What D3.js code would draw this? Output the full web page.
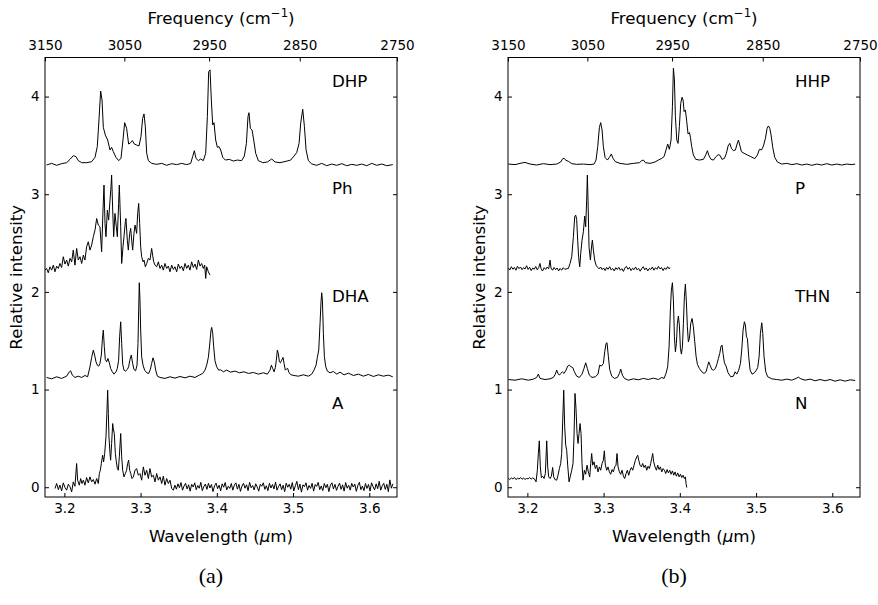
<!DOCTYPE html>
<html>
<head>
<meta charset="utf-8">
<script src="https://cdn.jsdelivr.net/npm/d3@7"></script>
<style>
  body { margin: 0; background: #fff; }
  svg { display: block; }
  text { fill: #000; }
</style>
</head>
<body>
<svg id="chart" width="878" height="605"></svg>
<script>
// spectra: [wavelength (um), relative intensity]
const dhp = [[3.1767,3.299],[3.1833,3.316],[3.1899,3.296],[3.1964,3.313],[3.2030,3.323],[3.2074,3.357],[3.2117,3.395],[3.2152,3.385],[3.2183,3.344],[3.2227,3.323],[3.2292,3.323],[3.2358,3.333],[3.2402,3.378],[3.2432,3.487],[3.2454,3.760],[3.2476,4.057],[3.2494,3.965],[3.2511,3.685],[3.2537,3.607],[3.2568,3.555],[3.2599,3.453],[3.2620,3.480],[3.2642,3.436],[3.2677,3.378],[3.2712,3.344],[3.2743,3.367],[3.2769,3.555],[3.2791,3.733],[3.2817,3.675],[3.2843,3.514],[3.2870,3.528],[3.2892,3.549],[3.2918,3.514],[3.2948,3.504],[3.2979,3.494],[3.3005,3.590],[3.3027,3.777],[3.3045,3.822],[3.3062,3.692],[3.3080,3.419],[3.3102,3.344],[3.3145,3.316],[3.3211,3.306],[3.3277,3.316],[3.3342,3.296],[3.3408,3.313],[3.3473,3.303],[3.3539,3.316],[3.3605,3.303],[3.3657,3.316],[3.3683,3.385],[3.3705,3.446],[3.3727,3.367],[3.3758,3.344],[3.3788,3.361],[3.3823,3.344],[3.3854,3.419],[3.3876,3.795],[3.3893,4.256],[3.3911,4.273],[3.3928,3.965],[3.3946,3.709],[3.3963,3.733],[3.3985,3.555],[3.4007,3.480],[3.4029,3.487],[3.4051,3.453],[3.4077,3.378],[3.4112,3.350],[3.4164,3.357],[3.4217,3.340],[3.4269,3.350],[3.4326,3.344],[3.4361,3.391],[3.4388,3.521],[3.4409,3.795],[3.4422,3.835],[3.4440,3.675],[3.4462,3.658],[3.4484,3.555],[3.4510,3.419],[3.4545,3.344],[3.4602,3.323],[3.4663,3.330],[3.4720,3.361],[3.4764,3.330],[3.4829,3.323],[3.4908,3.337],[3.4969,3.350],[3.5013,3.391],[3.5048,3.426],[3.5079,3.521],[3.5100,3.726],[3.5127,3.870],[3.5149,3.692],[3.5171,3.453],[3.5201,3.344],[3.5245,3.310],[3.5310,3.296],[3.5376,3.316],[3.5442,3.292],[3.5507,3.309],[3.5573,3.296],[3.5639,3.313],[3.5704,3.292],[3.5770,3.306],[3.5836,3.296],[3.5901,3.309],[3.5967,3.292],[3.6032,3.316],[3.6098,3.296],[3.6163,3.309],[3.6229,3.292],[3.6308,3.303]];

const ph = [[3.1746,2.223],[3.1767,2.240],[3.1789,2.196],[3.1811,2.257],[3.1833,2.223],[3.1855,2.274],[3.1877,2.206],[3.1899,2.264],[3.1921,2.240],[3.1942,2.291],[3.1964,2.250],[3.1986,2.360],[3.2008,2.285],[3.2030,2.326],[3.2052,2.264],[3.2074,2.343],[3.2096,2.308],[3.2117,2.428],[3.2139,2.274],[3.2161,2.445],[3.2183,2.326],[3.2205,2.360],[3.2227,2.291],[3.2249,2.377],[3.2270,2.326],[3.2292,2.462],[3.2314,2.513],[3.2336,2.428],[3.2358,2.479],[3.2380,2.565],[3.2402,2.633],[3.2424,2.752],[3.2445,2.684],[3.2467,2.667],[3.2489,2.411],[3.2507,2.838],[3.2520,3.094],[3.2533,2.701],[3.2546,2.565],[3.2564,2.838],[3.2581,2.735],[3.2599,2.940],[3.2612,3.077],[3.2620,3.196],[3.2634,2.838],[3.2647,2.565],[3.2664,2.804],[3.2682,2.667],[3.2695,2.565],[3.2712,2.906],[3.2721,3.094],[3.2739,2.667],[3.2752,2.291],[3.2769,2.462],[3.2782,2.565],[3.2800,2.718],[3.2808,2.752],[3.2826,2.530],[3.2839,2.428],[3.2857,2.599],[3.2870,2.650],[3.2883,2.530],[3.2896,2.428],[3.2913,2.599],[3.2927,2.684],[3.2940,2.633],[3.2948,2.599],[3.2962,2.804],[3.2975,2.906],[3.2988,2.701],[3.3001,2.462],[3.3014,2.360],[3.3032,2.308],[3.3045,2.326],[3.3062,2.257],[3.3080,2.291],[3.3102,2.343],[3.3123,2.326],[3.3145,2.445],[3.3158,2.377],[3.3172,2.308],[3.3189,2.274],[3.3211,2.257],[3.3233,2.308],[3.3255,2.240],[3.3277,2.274],[3.3298,2.223],[3.3320,2.291],[3.3342,2.240],[3.3364,2.264],[3.3386,2.206],[3.3408,2.274],[3.3430,2.230],[3.3451,2.257],[3.3473,2.206],[3.3495,2.285],[3.3517,2.240],[3.3539,2.264],[3.3561,2.216],[3.3583,2.291],[3.3605,2.240],[3.3626,2.274],[3.3648,2.223],[3.3670,2.308],[3.3692,2.250],[3.3714,2.285],[3.3736,2.230],[3.3758,2.326],[3.3780,2.264],[3.3801,2.291],[3.3823,2.240],[3.3841,2.274],[3.3854,2.138],[3.3867,2.257],[3.3889,2.206],[3.3911,2.172]];

const dha = [[3.1767,1.124],[3.1833,1.110],[3.1899,1.131],[3.1964,1.114],[3.2030,1.137],[3.2065,1.182],[3.2082,1.192],[3.2104,1.148],[3.2139,1.124],[3.2183,1.137],[3.2227,1.124],[3.2270,1.144],[3.2305,1.131],[3.2336,1.233],[3.2358,1.329],[3.2380,1.404],[3.2397,1.353],[3.2415,1.284],[3.2432,1.250],[3.2450,1.240],[3.2467,1.267],[3.2485,1.353],[3.2498,1.506],[3.2511,1.609],[3.2524,1.438],[3.2537,1.308],[3.2555,1.284],[3.2572,1.318],[3.2590,1.274],[3.2607,1.216],[3.2629,1.182],[3.2651,1.158],[3.2677,1.182],[3.2695,1.216],[3.2712,1.301],[3.2725,1.540],[3.2739,1.694],[3.2752,1.472],[3.2765,1.260],[3.2782,1.199],[3.2804,1.189],[3.2826,1.206],[3.2843,1.233],[3.2861,1.308],[3.2878,1.353],[3.2896,1.267],[3.2913,1.206],[3.2935,1.192],[3.2953,1.250],[3.2966,1.472],[3.2975,1.814],[3.2983,2.094],[3.2992,1.916],[3.3001,1.609],[3.3014,1.336],[3.3032,1.250],[3.3053,1.199],[3.3080,1.172],[3.3106,1.165],[3.3128,1.206],[3.3145,1.267],[3.3163,1.325],[3.3180,1.284],[3.3198,1.199],[3.3220,1.137],[3.3255,1.124],[3.3320,1.114],[3.3386,1.131],[3.3451,1.117],[3.3517,1.134],[3.3583,1.120],[3.3648,1.137],[3.3714,1.124],[3.3771,1.148],[3.3815,1.165],[3.3845,1.199],[3.3867,1.250],[3.3889,1.329],[3.3906,1.455],[3.3924,1.609],[3.3933,1.636],[3.3946,1.575],[3.3959,1.438],[3.3976,1.294],[3.3998,1.233],[3.4024,1.199],[3.4051,1.202],[3.4086,1.182],[3.4129,1.199],[3.4182,1.178],[3.4239,1.189],[3.4296,1.172],[3.4357,1.182],[3.4414,1.165],[3.4479,1.175],[3.4545,1.158],[3.4611,1.172],[3.4663,1.158],[3.4698,1.199],[3.4716,1.250],[3.4733,1.216],[3.4751,1.182],[3.4768,1.226],[3.4781,1.301],[3.4794,1.404],[3.4807,1.370],[3.4821,1.284],[3.4834,1.274],[3.4851,1.301],[3.4869,1.329],[3.4882,1.267],[3.4899,1.199],[3.4917,1.213],[3.4930,1.216],[3.4947,1.172],[3.4974,1.151],[3.5013,1.144],[3.5070,1.137],[3.5135,1.151],[3.5201,1.137],[3.5245,1.158],[3.5275,1.199],[3.5302,1.250],[3.5319,1.329],[3.5337,1.404],[3.5354,1.677],[3.5367,1.899],[3.5376,1.991],[3.5385,1.916],[3.5398,1.575],[3.5411,1.336],[3.5429,1.233],[3.5450,1.189],[3.5485,1.172],[3.5529,1.185],[3.5573,1.158],[3.5617,1.178],[3.5669,1.151],[3.5726,1.168],[3.5792,1.144],[3.5857,1.158],[3.5923,1.137],[3.5988,1.155],[3.6054,1.134],[3.6120,1.151],[3.6185,1.137],[3.6251,1.148],[3.6308,1.131]];

const anth = [[3.1877,-0.013],[3.1899,0.038],[3.1921,-0.024],[3.1942,0.021],[3.1964,-0.037],[3.1986,0.045],[3.2008,-0.003],[3.2030,-0.030],[3.2052,0.031],[3.2074,0.004],[3.2096,-0.047],[3.2117,0.055],[3.2139,0.010],[3.2161,0.243],[3.2174,0.072],[3.2196,0.021],[3.2214,0.089],[3.2231,0.038],[3.2249,0.072],[3.2270,0.021],[3.2292,0.099],[3.2314,0.045],[3.2336,0.106],[3.2358,0.055],[3.2380,0.079],[3.2402,0.031],[3.2424,0.089],[3.2445,0.038],[3.2459,0.140],[3.2472,0.174],[3.2485,0.243],[3.2502,0.328],[3.2515,0.260],[3.2529,0.345],[3.2546,0.516],[3.2559,0.789],[3.2568,0.994],[3.2577,0.755],[3.2585,0.516],[3.2599,0.345],[3.2607,0.277],[3.2620,0.448],[3.2634,0.652],[3.2642,0.601],[3.2655,0.550],[3.2669,0.345],[3.2682,0.260],[3.2695,0.191],[3.2708,0.174],[3.2721,0.311],[3.2739,0.550],[3.2752,0.311],[3.2765,0.174],[3.2782,0.106],[3.2800,0.140],[3.2817,0.174],[3.2830,0.243],[3.2843,0.277],[3.2857,0.174],[3.2870,0.140],[3.2887,0.089],[3.2905,0.106],[3.2927,0.174],[3.2948,0.191],[3.2970,0.123],[3.2992,0.140],[3.3014,0.072],[3.3036,0.208],[3.3058,0.123],[3.3080,0.174],[3.3102,0.089],[3.3123,0.191],[3.3145,0.106],[3.3167,0.123],[3.3189,0.055],[3.3211,0.140],[3.3233,0.072],[3.3255,0.106],[3.3277,0.038],[3.3298,0.113],[3.3320,0.021],[3.3342,0.089],[3.3364,0.038],[3.3386,0.072],[3.3408,-0.013],[3.3430,-0.030],[3.345,0.021],[3.347,-0.020],[3.349,0.035],[3.351,-0.005],[3.353,0.048],[3.355,-0.030],[3.357,0.012],[3.359,0.040],[3.361,-0.018],[3.363,0.025],[3.365,-0.040],[3.367,0.030],[3.369,0.002],[3.371,0.045],[3.373,-0.025],[3.375,0.018],[3.377,-0.010],[3.379,0.050],[3.381,-0.035],[3.383,0.008],[3.385,0.032],[3.387,-0.022],[3.389,0.040],[3.391,-0.008],[3.393,0.028],[3.395,-0.045],[3.397,0.015],[3.399,0.042],[3.401,-0.015],[3.403,0.020],[3.405,-0.038],[3.407,0.035],[3.409,0.000],[3.411,0.048],[3.413,-0.028],[3.415,0.010],[3.417,-0.012],[3.419,0.038],[3.421,-0.030],[3.423,0.022],[3.425,0.045],[3.427,-0.020],[3.429,0.030],[3.431,-0.042],[3.433,0.012],[3.435,0.040],[3.437,-0.010],[3.439,0.025],[3.441,-0.035],[3.443,0.050],[3.445,-0.005],[3.447,0.018],[3.449,-0.028],[3.451,0.035],[3.453,0.002],[3.455,-0.040],[3.457,0.030],[3.459,0.010],[3.461,0.045],[3.463,-0.022],[3.465,0.015],[3.467,-0.035],[3.469,0.040],[3.471,-0.008],[3.473,0.028],[3.475,-0.018],[3.477,0.052],[3.479,-0.030],[3.481,0.008],[3.483,0.035],[3.485,-0.025],[3.487,0.020],[3.489,-0.045],[3.491,0.042],[3.493,0.000],[3.495,0.030],[3.497,-0.020],[3.499,0.048],[3.501,-0.038],[3.503,0.015],[3.505,0.060],[3.507,-0.025],[3.509,0.032],[3.511,-0.050],[3.513,0.025],[3.515,0.005],[3.517,0.045],[3.519,-0.030],[3.521,0.018],[3.523,-0.012],[3.525,0.040],[3.527,-0.040],[3.529,0.028],[3.531,0.008],[3.533,0.050],[3.535,-0.025],[3.537,0.012],[3.539,-0.035],[3.541,0.038],[3.543,-0.005],[3.545,0.030],[3.547,-0.045],[3.549,0.022],[3.551,0.045],[3.553,-0.018],[3.555,0.030],[3.557,-0.032],[3.559,0.010],[3.561,0.042],[3.563,-0.022],[3.565,0.025],[3.567,-0.040],[3.569,0.048],[3.571,-0.010],[3.573,0.020],[3.575,-0.030],[3.577,0.040],[3.579,0.002],[3.581,0.032],[3.583,-0.042],[3.585,0.018],[3.587,0.050],[3.589,-0.025],[3.591,0.012],[3.593,-0.035],[3.595,0.038],[3.597,-0.012],[3.599,0.028],[3.601,-0.040],[3.603,0.045],[3.605,0.005],[3.607,-0.028],[3.609,0.035],[3.611,-0.015],[3.613,0.060],[3.615,-0.030],[3.617,0.015],[3.619,0.040],[3.621,-0.022],[3.623,0.030],[3.625,-0.045],[3.627,0.075],[3.629,-0.010],[3.631,0.035]];

const hhp = [[3.1751,3.309],[3.1838,3.303],[3.1926,3.320],[3.1969,3.326],[3.2035,3.309],[3.2122,3.299],[3.2210,3.313],[3.2297,3.303],[3.2385,3.309],[3.2437,3.330],[3.2464,3.364],[3.2481,3.367],[3.2507,3.347],[3.2538,3.337],[3.2582,3.313],[3.2647,3.306],[3.2735,3.309],[3.2822,3.303],[3.2875,3.309],[3.2901,3.350],[3.2923,3.487],[3.2945,3.685],[3.2962,3.733],[3.2980,3.658],[3.2997,3.487],[3.3019,3.378],[3.3050,3.350],[3.3076,3.378],[3.3102,3.412],[3.3124,3.367],[3.3155,3.333],[3.3216,3.316],[3.3303,3.306],[3.3391,3.316],[3.3470,3.323],[3.3500,3.344],[3.3522,3.350],[3.3548,3.323],[3.3610,3.316],[3.3675,3.330],[3.3719,3.350],[3.3763,3.367],[3.3793,3.385],[3.3819,3.453],[3.3841,3.514],[3.3863,3.460],[3.3885,3.555],[3.3903,3.897],[3.3916,4.290],[3.3929,4.170],[3.3942,3.795],[3.3960,3.555],[3.3977,3.521],[3.3994,3.692],[3.4012,3.931],[3.4029,3.993],[3.4043,3.965],[3.4056,3.846],[3.4073,3.863],[3.4091,3.743],[3.4108,3.617],[3.4126,3.631],[3.4139,3.583],[3.4156,3.487],[3.4178,3.402],[3.4209,3.357],[3.4257,3.350],[3.4309,3.357],[3.4340,3.402],[3.4362,3.446],[3.4384,3.392],[3.4410,3.357],[3.4441,3.350],[3.4476,3.385],[3.4502,3.405],[3.4528,3.398],[3.4554,3.357],[3.4585,3.367],[3.4611,3.419],[3.4633,3.494],[3.4655,3.521],[3.4677,3.470],[3.4703,3.446],[3.4729,3.453],[3.4751,3.514],[3.4769,3.555],[3.4786,3.504],[3.4808,3.436],[3.4843,3.419],[3.4887,3.402],[3.4931,3.385],[3.4983,3.364],[3.5018,3.402],[3.5044,3.460],[3.5071,3.453],[3.5097,3.494],[3.5123,3.573],[3.5145,3.675],[3.5162,3.699],[3.5180,3.675],[3.5197,3.607],[3.5219,3.480],[3.5245,3.378],[3.5280,3.330],[3.5337,3.309],[3.5403,3.316],[3.5469,3.303],[3.5534,3.313],[3.5600,3.299],[3.5666,3.309],[3.5731,3.296],[3.5797,3.309],[3.5862,3.299],[3.5928,3.313],[3.5994,3.299],[3.6059,3.309],[3.6125,3.299],[3.6190,3.309],[3.6256,3.303],[3.6300,3.309]];

const pyr = [[3.1751,2.245],[3.177,2.225],[3.179,2.258],[3.181,2.232],[3.183,2.250],[3.185,2.222],[3.187,2.262],[3.189,2.238],[3.191,2.255],[3.193,2.228],[3.195,2.248],[3.197,2.235],[3.199,2.268],[3.201,2.230],[3.203,2.252],[3.205,2.218],[3.207,2.244],[3.209,2.232],[3.211,2.260],[3.213,2.226],[3.215,2.250],[3.2166,2.291],[3.218,2.236],[3.220,2.214],[3.222,2.248],[3.224,2.230],[3.226,2.255],[3.228,2.236],[3.2297,2.325],[3.231,2.245],[3.233,2.222],[3.235,2.250],[3.237,2.228],[3.239,2.245],[3.241,2.215],[3.243,2.240],[3.245,2.222],[3.247,2.248],[3.249,2.232],[3.2538,2.240],[3.2560,2.291],[3.2582,2.360],[3.2604,2.565],[3.2621,2.769],[3.2634,2.786],[3.2647,2.742],[3.2660,2.530],[3.2673,2.353],[3.2687,2.257],[3.2700,2.394],[3.2717,2.530],[3.2735,2.616],[3.2752,2.776],[3.2765,2.667],[3.2778,2.940],[3.2787,3.196],[3.2796,2.940],[3.2809,2.462],[3.2827,2.326],[3.2844,2.479],[3.2853,2.530],[3.2866,2.428],[3.2883,2.326],[3.2901,2.274],[3.2923,2.250],[3.294,2.236],[3.296,2.255],[3.298,2.228],[3.300,2.245],[3.302,2.218],[3.304,2.250],[3.306,2.232],[3.308,2.258],[3.310,2.225],[3.312,2.240],[3.314,2.214],[3.316,2.248],[3.318,2.230],[3.320,2.252],[3.322,2.222],[3.324,2.238],[3.326,2.210],[3.328,2.245],[3.330,2.262],[3.332,2.232],[3.334,2.250],[3.336,2.218],[3.338,2.242],[3.340,2.228],[3.342,2.255],[3.344,2.225],[3.346,2.240],[3.348,2.212],[3.350,2.238],[3.352,2.258],[3.354,2.226],[3.356,2.245],[3.358,2.215],[3.360,2.240],[3.362,2.230],[3.364,2.255],[3.366,2.222],[3.368,2.248],[3.370,2.232],[3.372,2.262],[3.374,2.235],[3.376,2.250],[3.378,2.218],[3.380,2.245],[3.382,2.230],[3.384,2.258],[3.386,2.236],[3.387,2.250]];

const thn = [[3.1751,1.103],[3.1838,1.096],[3.1926,1.110],[3.2013,1.096],[3.2079,1.107],[3.2122,1.124],[3.2144,1.158],[3.2166,1.114],[3.2232,1.103],[3.2297,1.110],[3.2341,1.124],[3.2367,1.158],[3.2385,1.199],[3.2402,1.165],[3.2420,1.148],[3.2437,1.165],[3.2459,1.182],[3.2481,1.165],[3.2507,1.199],[3.2529,1.240],[3.2551,1.250],[3.2573,1.233],[3.2595,1.226],[3.2617,1.182],[3.2647,1.137],[3.2682,1.124],[3.2717,1.158],[3.2743,1.216],[3.2765,1.274],[3.2787,1.216],[3.2813,1.148],[3.2848,1.124],[3.2892,1.131],[3.2927,1.158],[3.2949,1.250],[3.2971,1.240],[3.2997,1.267],[3.3015,1.387],[3.3032,1.472],[3.3045,1.479],[3.3063,1.336],[3.3080,1.206],[3.3107,1.137],[3.3142,1.114],[3.3181,1.124],[3.3207,1.165],[3.3225,1.209],[3.3247,1.148],[3.3273,1.114],[3.3325,1.096],[3.3391,1.110],[3.3456,1.100],[3.3522,1.114],[3.3588,1.103],[3.3653,1.117],[3.3719,1.103],[3.3763,1.124],[3.3793,1.114],[3.3819,1.165],[3.3841,1.233],[3.3859,1.438],[3.3876,1.814],[3.3889,2.018],[3.3903,2.094],[3.3916,1.916],[3.3929,1.540],[3.3942,1.387],[3.3955,1.472],[3.3968,1.677],[3.3981,1.752],[3.3994,1.660],[3.4008,1.421],[3.4021,1.363],[3.4034,1.438],[3.4047,1.677],[3.4060,1.950],[3.4073,2.080],[3.4086,1.899],[3.4099,1.643],[3.4112,1.489],[3.4126,1.523],[3.4143,1.677],[3.4161,1.728],[3.4178,1.643],[3.4196,1.489],[3.4213,1.342],[3.4231,1.257],[3.4257,1.216],[3.4288,1.182],[3.4318,1.165],[3.4344,1.182],[3.4362,1.233],[3.4379,1.284],[3.4397,1.250],[3.4419,1.206],[3.4441,1.199],[3.4467,1.216],[3.4489,1.267],[3.4506,1.318],[3.4524,1.370],[3.4541,1.445],[3.4554,1.455],[3.4567,1.370],[3.4585,1.274],[3.4607,1.240],[3.4633,1.172],[3.4668,1.131],[3.4703,1.137],[3.4725,1.182],[3.4747,1.158],[3.4773,1.199],[3.4795,1.267],[3.4812,1.404],[3.4830,1.609],[3.4847,1.694],[3.4860,1.660],[3.4874,1.540],[3.4887,1.523],[3.4904,1.336],[3.4922,1.199],[3.4948,1.158],[3.4979,1.172],[3.5005,1.199],[3.5022,1.226],[3.5040,1.336],[3.5057,1.575],[3.5075,1.684],[3.5088,1.575],[3.5105,1.336],[3.5127,1.182],[3.5153,1.131],[3.5206,1.110],[3.5272,1.103],[3.5337,1.096],[3.5403,1.107],[3.5469,1.096],[3.5525,1.114],[3.5556,1.127],[3.5587,1.110],[3.5643,1.096],[3.5709,1.107],[3.5775,1.090],[3.5840,1.103],[3.5906,1.090],[3.5972,1.103],[3.6037,1.086],[3.6103,1.100],[3.6168,1.086],[3.6234,1.100],[3.6300,1.093]];

const nap = [[3.1751,0.089],[3.177,0.080],[3.179,0.095],[3.181,0.085],[3.183,0.100],[3.185,0.078],[3.187,0.092],[3.189,0.084],[3.191,0.098],[3.193,0.082],[3.195,0.094],[3.197,0.080],[3.199,0.090],[3.201,0.086],[3.203,0.100],[3.205,0.083],[3.207,0.095],[3.209,0.088],[3.2114,0.055],[3.2131,0.174],[3.2144,0.345],[3.2157,0.475],[3.2170,0.208],[3.2184,0.099],[3.2201,0.113],[3.2219,0.089],[3.2236,0.140],[3.2254,0.475],[3.2267,0.208],[3.2280,0.106],[3.2297,0.089],[3.2315,0.113],[3.2332,0.202],[3.2345,0.106],[3.2363,0.079],[3.2385,0.072],[3.2402,0.123],[3.2420,0.191],[3.2437,0.243],[3.2450,0.345],[3.2464,0.687],[3.2477,0.994],[3.2490,0.618],[3.2503,0.430],[3.2516,0.379],[3.2529,0.226],[3.2547,0.055],[3.2564,0.113],[3.2582,0.174],[3.2599,0.243],[3.2612,0.516],[3.2625,0.960],[3.2638,0.806],[3.2652,0.550],[3.2665,0.448],[3.2678,0.550],[3.2691,0.652],[3.2704,0.550],[3.2717,0.243],[3.2730,0.072],[3.2748,0.174],[3.2765,0.133],[3.2783,0.226],[3.2800,0.157],[3.2818,0.106],[3.2831,0.243],[3.2844,0.345],[3.2857,0.226],[3.2875,0.260],[3.2892,0.191],[3.2910,0.226],[3.2927,0.157],[3.2945,0.208],[3.2962,0.174],[3.2980,0.243],[3.2997,0.277],[3.3010,0.373],[3.3023,0.226],[3.3041,0.174],[3.3058,0.208],[3.3076,0.157],[3.3093,0.133],[3.3111,0.181],[3.3128,0.157],[3.3146,0.208],[3.3163,0.226],[3.3176,0.345],[3.3190,0.208],[3.3207,0.157],[3.3225,0.133],[3.3242,0.174],[3.3260,0.113],[3.3277,0.089],[3.3295,0.140],[3.3312,0.174],[3.3330,0.123],[3.3347,0.174],[3.3365,0.202],[3.3382,0.174],[3.3400,0.226],[3.3417,0.277],[3.3435,0.311],[3.3448,0.328],[3.3461,0.277],[3.3478,0.226],[3.3496,0.208],[3.3513,0.243],[3.3531,0.202],[3.3548,0.226],[3.3566,0.174],[3.3583,0.215],[3.3601,0.191],[3.3618,0.243],[3.3631,0.294],[3.3644,0.345],[3.3657,0.260],[3.3675,0.208],[3.3693,0.174],[3.3710,0.226],[3.3728,0.181],[3.3745,0.208],[3.3763,0.157],[3.3780,0.191],[3.3798,0.174],[3.3815,0.140],[3.3833,0.181],[3.3850,0.147],[3.3868,0.174],[3.3885,0.133],[3.3903,0.167],[3.3920,0.123],[3.3938,0.157],[3.3955,0.113],[3.3973,0.147],[3.3990,0.106],[3.4008,0.133],[3.4025,0.099],[3.4043,0.123],[3.4060,0.089],[3.4073,0.106],[3.4082,0.038],[3.4091,-0.003]];

const namesA = ['DHP', 'Ph', 'DHA', 'A'];
const namesB = ['HHP', 'P', 'THN', 'N'];
const labelLevels = [4.1, 3.0, 1.9, 0.8];
const waveTicks = [3.2, 3.3, 3.4, 3.5, 3.6];
const freqTicks = [3150, 3050, 2950, 2850, 2750];
const intensityTicks = [0, 1, 2, 3, 4];

const panels = [
  { left: 45, caption: '(a)', names: namesA, data: [dhp, ph, dha, anth] },
  { left: 508, caption: '(b)', names: namesB, data: [hhp, pyr, thn, nap] }
];

const plotW = 352, plotTop = 57.5, plotBottom = 497;
const sans = '"DejaVu Sans", sans-serif';
const svg = d3.select('#chart');

const y = d3.scaleLinear().domain([-0.1, 4.4]).range([plotBottom, plotTop]);

panels.forEach(p => {
  const x = d3.scaleLinear()
    .domain([1e4 / freqTicks[0], 1e4 / freqTicks[freqTicks.length - 1]])
    .range([p.left, p.left + plotW]);
  const g = svg.append('g');

  const line = d3.line().x(d => x(d[0])).y(d => y(d[1]));

  p.data.forEach((s, i) => {
    g.append('path')
      .datum(s)
      .attr('d', line)
      .attr('fill', 'none')
      .attr('stroke', '#000')
      .attr('stroke-width', 1)
      .attr('stroke-linejoin', 'round');

    g.append('text')
      .attr('x', x(3.551))
      .attr('y', y(labelLevels[i]))
      .style('font-family', sans)
      .style('font-size', '16.7px')
      .text(p.names[i]);
  });

  const styleAxis = sel => {
    sel.select('.domain').remove();
    sel.selectAll('line').attr('stroke', '#000');
    sel.selectAll('text').style('font-size', '13.5px').style('font-family', sans);
  };

  g.append('g')
    .attr('transform', `translate(0,${plotBottom})`)
    .call(d3.axisBottom(x).tickValues(waveTicks).tickFormat(d3.format('.1f'))
      .tickSizeInner(-4).tickSizeOuter(0).tickPadding(6))
    .call(styleAxis);

  g.append('g')
    .attr('transform', `translate(0,${plotTop})`)
    .call(d3.axisTop(x).tickValues(freqTicks.map(f => 1e4 / f))
      .tickFormat((d, i) => freqTicks[i])
      .tickSizeInner(-4).tickSizeOuter(0).tickPadding(8))
    .call(styleAxis);

  g.append('g')
    .attr('transform', `translate(${p.left},0)`)
    .call(d3.axisLeft(y).tickValues(intensityTicks).tickFormat(d3.format('d'))
      .tickSizeInner(-4).tickSizeOuter(0).tickPadding(5.5))
    .call(styleAxis);

  g.append('g')
    .attr('transform', `translate(${p.left + plotW},0)`)
    .call(d3.axisRight(y).tickValues(intensityTicks).tickFormat('')
      .tickSizeInner(-4).tickSizeOuter(0))
    .call(styleAxis);

  g.append('rect')
    .attr('x', p.left).attr('y', plotTop)
    .attr('width', plotW).attr('height', plotBottom - plotTop)
    .attr('fill', 'none').attr('stroke', '#000').attr('stroke-width', 1);

  const cx = p.left + plotW / 2;

  const ft = g.append('text')
    .attr('x', cx).attr('y', 24)
    .attr('text-anchor', 'middle')
    .style('font-family', sans)
    .style('font-size', '16.7px');
  ft.append('tspan').text('Frequency (cm');
  ft.append('tspan').style('font-size', '11.7px').attr('dy', -7).text('\u22121');
  ft.append('tspan').attr('dy', 7).text(')');

  const wt = g.append('text')
    .attr('x', cx).attr('y', 542)
    .attr('text-anchor', 'middle')
    .style('font-family', sans)
    .style('font-size', '16.7px');
  wt.append('tspan').text('Wavelength (');
  wt.append('tspan').style('font-style', 'italic').text('\u03bc');
  wt.append('tspan').text('m)');

  g.append('text')
    .attr('transform', `translate(${p.left - 23},${(plotTop + plotBottom) / 2}) rotate(-90)`)
    .attr('text-anchor', 'middle')
    .style('font-family', sans)
    .style('font-size', '16.7px')
    .text('Relative intensity');

  g.append('text')
    .attr('x', cx - 10).attr('y', 583)
    .attr('text-anchor', 'middle')
    .style('font-family', '"Liberation Serif", "DejaVu Serif", serif')
    .style('font-size', '22px')
    .text(p.caption);
});
</script>
</body>
</html>
